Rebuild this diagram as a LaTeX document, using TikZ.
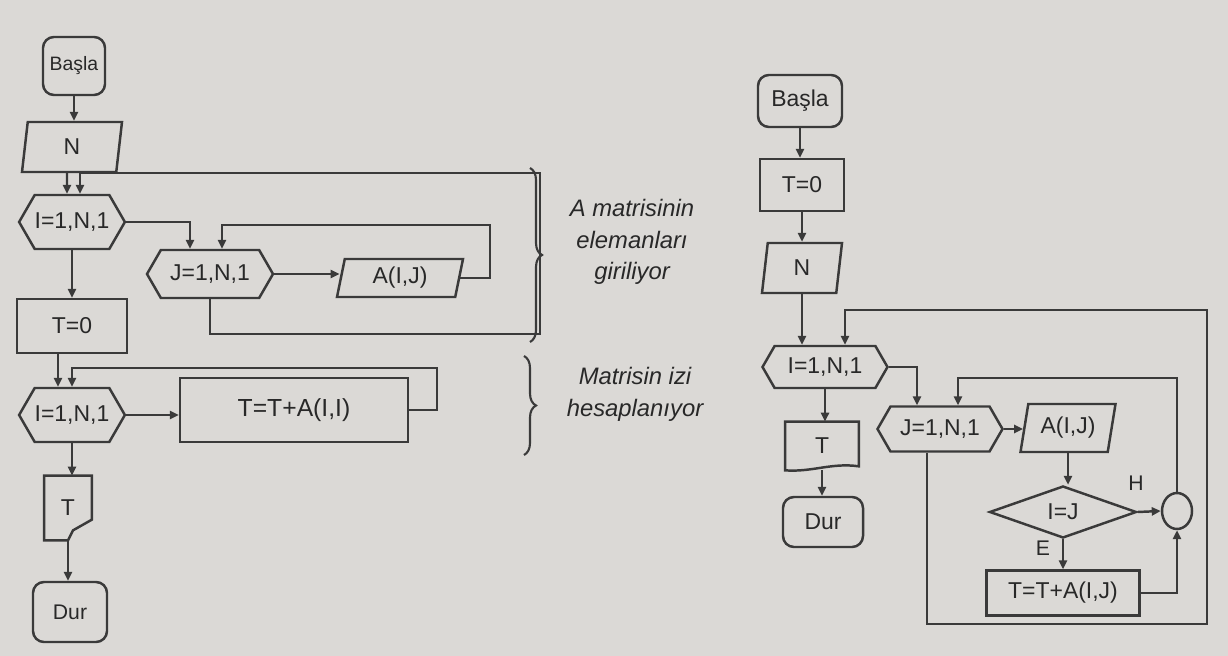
\documentclass[tikz,border=0pt]{standalone}
\usepackage{fontspec}
\setmainfont{Liberation Sans}
\setsansfont{Liberation Sans}
\usetikzlibrary{shapes.geometric,shapes.symbols,arrows.meta,decorations.pathreplacing,calc}
\newlength\pxu \setlength\pxu{0.5667pt}
\definecolor{bg}{RGB}{219,217,214}
\definecolor{ink}{RGB}{58,58,58}
\definecolor{txt}{RGB}{40,40,40}
\begin{document}
\begin{tikzpicture}[x=0.5667pt, y=-0.5667pt,
  base/.style={draw=ink, line width=1.4pt, text=txt, inner sep=0pt, font=\fontsize{13}{15}\selectfont},
  term/.style={base, rectangle, rounded corners=6.2pt},
  proc/.style={base, rectangle},
  iobox/.style={base, trapezium, trapezium left angle=70, trapezium right angle=110, trapezium stretches body},
  hexa/.style={base, signal, signal to=west and east, signal pointer angle=120},
  decis/.style={base, diamond},
  conn/.style={base, ellipse},
  ghost/.style={inner sep=0pt, text=txt, font=\fontsize{13}{15}\selectfont},
  arr/.style={draw=ink, line width=1.4pt, -{Triangle[length=5.1pt,width=4.6pt]}},
  brc/.style={draw=ink, line width=1.2pt, decorate, decoration={brace, amplitude=6.8pt}},
  note/.style={text=txt, align=center, font=\fontsize{13.5}{18}\selectfont\itshape}
]
\useasboundingbox (0,0) rectangle (1228,656);
\fill[bg] (0,0) rectangle (1228,656);

% ---------------- left flowchart ----------------
\node[term, minimum width=62\pxu, minimum height=58\pxu, font=\fontsize{11}{13}\selectfont] (B1) at (74,66) {Başla};
\node[iobox, minimum width=100\pxu, minimum height=50\pxu] (N1) at (72,147) {N};
\node[hexa, minimum width=100\pxu, minimum height=54\pxu] (I1) at (72,222) {I=1,N,1};
\node[hexa, minimum width=126\pxu, minimum height=48\pxu] (J1) at (210,274) {J=1,N,1};
\node[iobox, minimum width=126\pxu, minimum height=38\pxu] (A1) at (400,278) {A(I,J)};
\node[proc, minimum width=110\pxu, minimum height=54\pxu] (T01) at (72,326) {T=0};
\node[hexa, minimum width=102\pxu, minimum height=54\pxu] (I2) at (72,415) {I=1,N,1};
\node[proc, minimum width=228\pxu, minimum height=64\pxu, font=\fontsize{14}{16}\selectfont] (S1) at (294,410) {T=T+A(I,I)};
\node[ghost, minimum width=47\pxu, minimum height=64\pxu] (TO1) at (68,508) {T};
\draw[draw=ink, line width=1.4pt] (TO1.north west) -- (TO1.north east) -- ($(TO1.north east)+(0,44)$)
   -- ($(TO1.south)+(5,-10)$) -- ($(TO1.south)+(0,0)$) -- (TO1.south west) -- cycle;
\node[term, minimum width=74\pxu, minimum height=60\pxu, font=\fontsize{12}{14}\selectfont] (D1) at (70,612) {Dur};

\coordinate (w1) at (540,334);
\coordinate (w2) at (540,173);
\coordinate (w3) at (490,225);
\coordinate (w4) at (437,368);

\draw[arr] (B1.south) -- (B1.south |- N1.north);
\draw[arr] ($(N1.south)+(-5,0)$) -- ($(I1.north)+(-5,0)$);
\draw[arr] (J1.south) |- (w1) -- (w2) -| ($(I1.north)+(8,0)$);
\draw[arr] (I1.east) -| ($(J1.north)+(-20,0)$);
\draw[arr] (J1.east) -- (J1.east -| A1.west);
\draw[arr] (A1.east) -| (w3) -| ($(J1.north)+(12,0)$);
\draw[arr] (I1.south) -- (I1.south |- T01.north);
\draw[arr] ($(T01.south)+(-14,0)$) -- ($(I2.north)+(-14,0)$);
\draw[arr] (S1.east) -| (w4) -| (I2.north);
\draw[arr] (I2.east) -- (I2.east -| S1.west);
\draw[arr] (I2.south) -- (I2.south |- TO1.north);
\draw[arr] (TO1.south) -- (TO1.south |- D1.north);

% braces and notes
\draw[brc] (530,168) -- (530,342);
\draw[brc] (524,356) -- (524,455);
\node[note] (n1) at (632,242) {A matrisinin\\elemanları\\giriliyor};
\node[note] (n2) at (635,394) {Matrisin izi\\hesaplanıyor};

% ---------------- right flowchart ----------------
\node[term, minimum width=84\pxu, minimum height=52\pxu] (B2) at (800,101) {Başla};
\node[proc, minimum width=84\pxu, minimum height=52\pxu] (T02) at (802,185) {T=0};
\node[iobox, minimum width=80\pxu, minimum height=50\pxu] (N2) at (802,268) {N};
\node[hexa, minimum width=125\pxu, minimum height=42\pxu] (I3) at (825,367) {I=1,N,1};
\node[hexa, minimum width=125\pxu, minimum height=45\pxu] (J2) at (940,429) {J=1,N,1};
\node[iobox, minimum width=95\pxu, minimum height=48\pxu] (A2) at (1068,428) {A(I,J)};
\node[decis, minimum width=147\pxu, minimum height=52\pxu] (C1) at (1063,512) {I=J};
\node[conn, minimum width=30\pxu, minimum height=36\pxu] (K) at (1177,511) {};
\node[proc, minimum width=153\pxu, minimum height=45\pxu] (S2) at (1063,593) {T=T+A(I,J)};
\node[ghost, minimum width=73\pxu, minimum height=48\pxu] (TO2) at (822,446) {T};
\draw[draw=ink, line width=1.4pt] (TO2.north west) -- (TO2.north east) -- ($(TO2.south east)+(0,-4)$)
   .. controls ($(TO2.south)+(10,-8)$) and ($(TO2.south)+(-10,2)$) .. (TO2.south west) -- cycle;
\node[term, minimum width=80\pxu, minimum height=50\pxu] (D2) at (823,522) {Dur};
\node[ghost, font=\fontsize{12}{14}\selectfont] (lH) at (1136,483) {H};
\node[ghost, font=\fontsize{12}{14}\selectfont] (lE) at (1043,548) {E};

\coordinate (w5) at (1207,624);
\coordinate (w6) at (1207,310);
\coordinate (w7) at (1177,378);

\draw[arr] (B2.south) -- (B2.south |- T02.north);
\draw[arr] (T02.south) -- (T02.south |- N2.north);
\draw[arr] (N2.south) -- (N2.south |- I3.north);
\draw[arr] ($(J2.south)+(-13,0)$) |- (w5) -- (w6) -| ($(I3.north)+(20,0)$);
\draw[arr] (I3.east) -| ($(J2.north)+(-23,0)$);
\draw[arr] (J2.east) -- (J2.east -| A2.west);
\draw[arr] (A2.south) -- (A2.south |- C1.north);
\draw[arr] (C1.east) -- (K.west);
\draw[arr] (C1.south) -- (S2.north);
\draw[arr] (S2.east) -| (K.south);
\draw[arr] (K.north) -- (w7) -| ($(J2.north)+(18,0)$);
\draw[arr] (I3.south) -- (I3.south |- TO2.north);
\draw[arr] (TO2.south) -- (TO2.south |- D2.north);
\end{tikzpicture}
\end{document}
